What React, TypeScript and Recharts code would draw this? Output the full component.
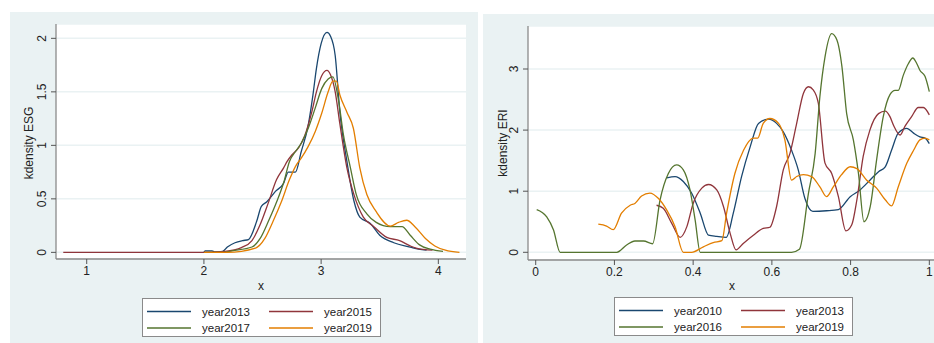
import React from "react"
import { LineChart, Line, XAxis, YAxis, CartesianGrid } from "recharts"

type Pair = [number, number]

// ESG kdensity curves (x, density)
const esg2013: Pair[] = [
  [2.0, 0], [2.01, 0.014], [2.07, 0.014], [2.09, 0.004], [2.16, 0.01], [2.2, 0.05], [2.265, 0.09],
  [2.33, 0.11], [2.38, 0.12], [2.45, 0.29], [2.49, 0.43], [2.535, 0.47], [2.61, 0.57], [2.68, 0.646],
  [2.72, 0.75], [2.78, 0.75], [2.83, 0.94], [2.89, 1.19], [2.93, 1.47], [2.96, 1.72], [3.0, 1.95],
  [3.05, 2.055], [3.08, 2.02], [3.12, 1.84], [3.16, 1.31], [3.22, 0.85], [3.28, 0.48], [3.33, 0.33],
  [3.42, 0.27], [3.5, 0.16], [3.62, 0.09], [3.76, 0.05], [3.83, 0.03], [3.9, 0.02],
]
const esg2015: Pair[] = [
  [0.8, 0], [2.0, 0], [2.18, 0.01], [2.32, 0.045], [2.41, 0.11], [2.48, 0.26], [2.55, 0.465],
  [2.62, 0.68], [2.68, 0.79], [2.71, 0.85], [2.75, 0.91], [2.81, 0.98], [2.86, 1.09], [2.92, 1.31],
  [2.96, 1.5], [3.005, 1.65], [3.05, 1.7], [3.08, 1.66], [3.12, 1.5], [3.16, 1.2], [3.22, 0.79],
  [3.28, 0.54], [3.36, 0.33], [3.45, 0.24], [3.56, 0.14], [3.67, 0.11], [3.76, 0.06], [3.81, 0.04],
  [3.95, 0.02],
]
const esg2017: Pair[] = [
  [2.0, 0], [2.18, 0], [2.22, 0.01], [2.41, 0.05], [2.48, 0.13], [2.55, 0.29], [2.62, 0.47],
  [2.68, 0.65], [2.73, 0.85], [2.78, 0.94], [2.83, 1.02], [2.89, 1.16], [2.95, 1.35], [3.005, 1.53],
  [3.06, 1.62], [3.1, 1.64], [3.15, 1.41], [3.19, 1.1], [3.25, 0.79], [3.3, 0.54], [3.39, 0.36],
  [3.47, 0.28], [3.59, 0.24], [3.69, 0.24], [3.76, 0.16], [3.84, 0.07], [3.93, 0.03], [4.04, 0.01],
]
const esg2019: Pair[] = [
  [2.0, 0], [2.2, 0], [2.44, 0.04], [2.52, 0.13], [2.59, 0.29], [2.66, 0.47], [2.73, 0.68],
  [2.79, 0.82], [2.83, 0.88], [2.89, 0.99], [2.95, 1.13], [3.005, 1.3], [3.06, 1.5], [3.1, 1.6],
  [3.13, 1.6], [3.16, 1.47], [3.22, 1.31], [3.275, 1.16], [3.33, 0.79], [3.39, 0.54], [3.47, 0.38],
  [3.59, 0.245], [3.66, 0.28], [3.73, 0.3], [3.8, 0.24], [3.89, 0.13], [3.97, 0.06], [4.06, 0.02],
  [4.18, 0],
]

// ERI kdensity curves
const eri2010: Pair[] = [
  [0.333, 1.22], [0.354, 1.24], [0.375, 1.16], [0.396, 0.97], [0.418, 0.64], [0.439, 0.28],
  [0.46, 0.26], [0.484, 0.245], [0.502, 0.64], [0.523, 1.24], [0.545, 1.73], [0.566, 2.11],
  [0.591, 2.18], [0.612, 2.11], [0.629, 1.97], [0.65, 1.67], [0.667, 1.35], [0.684, 0.88],
  [0.704, 0.67], [0.739, 0.68], [0.769, 0.7], [0.799, 0.91], [0.824, 1.02], [0.849, 1.18],
  [0.871, 1.32], [0.888, 1.4], [0.904, 1.67], [0.921, 1.95], [0.943, 2.03], [0.96, 1.95],
  [0.976, 1.89], [0.989, 1.87], [1.0, 1.78],
]
const eri2013: Pair[] = [
  [0.307, 0.77], [0.324, 0.72], [0.346, 0.47], [0.367, 0.245], [0.384, 0.42], [0.4, 0.8],
  [0.422, 1.05], [0.439, 1.11], [0.46, 1.02], [0.477, 0.75], [0.494, 0.31], [0.509, 0.04],
  [0.528, 0.15], [0.553, 0.28], [0.578, 0.39], [0.595, 0.41], [0.612, 0.75], [0.629, 1.35],
  [0.646, 1.62], [0.663, 2.11], [0.68, 2.6], [0.693, 2.71], [0.705, 2.66], [0.718, 2.44],
  [0.735, 1.46], [0.752, 1.29], [0.769, 0.91], [0.788, 0.35], [0.803, 0.45], [0.816, 0.86],
  [0.832, 1.57], [0.849, 2.0], [0.871, 2.27], [0.888, 2.31], [0.9, 2.22], [0.909, 2.08],
  [0.926, 1.92], [0.938, 2.06], [0.955, 2.22], [0.972, 2.37], [0.985, 2.37], [1.0, 2.25],
]
const eri2016: Pair[] = [
  [0.0025, 0.7], [0.028, 0.58], [0.045, 0.37], [0.062, 0], [0.206, 0], [0.231, 0.12],
  [0.252, 0.185], [0.274, 0.185], [0.297, 0.14], [0.316, 0.86], [0.337, 1.29], [0.358, 1.43],
  [0.375, 1.35], [0.392, 1.02], [0.405, 0.53], [0.418, 0], [0.65, 0], [0.67, 0.05], [0.693, 0.97],
  [0.71, 1.62], [0.722, 2.55], [0.735, 3.2], [0.752, 3.58], [0.765, 3.48], [0.778, 3.04],
  [0.79, 2.27], [0.807, 1.84], [0.82, 1.29], [0.834, 0.5], [0.85, 0.75], [0.866, 1.51],
  [0.883, 2.22], [0.9, 2.58], [0.913, 2.65], [0.921, 2.65], [0.934, 2.9], [0.947, 3.09],
  [0.958, 3.18], [0.968, 3.09], [0.976, 2.98], [0.989, 2.88], [1.0, 2.63],
]
const eri2019: Pair[] = [
  [0.159, 0.46], [0.18, 0.43], [0.197, 0.37], [0.218, 0.64], [0.24, 0.77], [0.252, 0.8],
  [0.269, 0.92], [0.29, 0.97], [0.312, 0.88], [0.333, 0.69], [0.354, 0.42], [0.375, 0], [0.396, 0],
  [0.426, 0.09], [0.451, 0.16], [0.473, 0.19], [0.485, 0.64], [0.506, 1.29], [0.528, 1.67],
  [0.553, 1.87], [0.564, 1.87], [0.578, 2.11], [0.595, 2.19], [0.617, 2.11], [0.633, 1.84],
  [0.65, 1.18], [0.663, 1.24], [0.68, 1.27], [0.701, 1.24], [0.722, 1.07], [0.739, 0.91],
  [0.756, 1.07], [0.777, 1.27], [0.799, 1.4], [0.816, 1.37], [0.841, 1.18], [0.866, 1.05],
  [0.888, 0.86], [0.904, 0.76], [0.921, 1.07], [0.943, 1.46], [0.96, 1.67], [0.976, 1.84],
  [0.989, 1.87], [1.0, 1.84],
]

const esgTicksX = [1, 2, 3, 4]
const esgTicksY = [0, 0.5, 1, 1.5, 2]
const eriTicksX = [0, 0.2, 0.4, 0.6, 0.8, 1]
const eriTicksY = [0, 1, 2, 3]

const COLORS = ["#1a476f", "#90353b", "#55752f", "#e37e00"]
const esgNames = ["year2013", "year2015", "year2017", "year2019"]
const eriNames = ["year2010", "year2013", "year2016", "year2019"]

const FONT = "'Liberation Sans', Arial, sans-serif"
const BG = "#eaf2f3"

const toPoints = (pairs: Pair[]) => pairs.map(([x, y]) => ({ x, y }))

function YTick(props: any) {
  const { x, y, payload } = props
  return (
    <text
      transform={`translate(${x},${y}) rotate(-90)`}
      textAnchor="middle"
      fontSize={12}
      fontFamily={FONT}
      fill="#222"
    >
      {payload.value}
    </text>
  )
}

// stata-style boxed legend, two columns
function KLegend({ names, left, top }: { names: string[]; left: number; top: number }) {
  const cols = [0, 122]
  const rows = [12.5, 29]
  return (
    <div
      style={{
        position: "absolute",
        left,
        top,
        width: 237,
        height: 37,
        background: "#fff",
        border: "1px solid #8a8a8a",
        fontFamily: FONT,
        fontSize: 11.5,
        color: "#222",
      }}
    >
      <svg width={237} height={37} style={{ position: "absolute", left: 0, top: 0 }}>
        {names.map((n, i) => {
          const cx = cols[i % 2]
          const cy = rows[Math.floor(i / 2)]
          return (
            <g key={"l" + i}>
              <line x1={cx + 4} x2={cx + 48} y1={cy} y2={cy} stroke={COLORS[i]} strokeWidth={1.3} />
              <text x={cx + 59} y={cy + 4} fontSize={11.5} fontFamily={FONT} fill="#222">
                {n}
              </text>
            </g>
          )
        })}
      </svg>
    </div>
  )
}

function AxisTitle({ text, left, top, rotate }: { text: string; left: number; top: number; rotate?: boolean }) {
  return (
    <div
      style={{
        position: "absolute",
        left,
        top,
        transform: `translate(-50%,-50%)${rotate ? " rotate(-90deg)" : ""}`,
        fontFamily: FONT,
        fontSize: 12,
        color: "#222",
        whiteSpace: "nowrap",
      }}
    >
      {text}
    </div>
  )
}

function Panel({
  left,
  top,
  width,
  height,
  yWidth,
  marginRight,
  marginBottom,
  xDomain,
  yDomain,
  xTicks,
  yTicks,
  series,
  names,
}: {
  left: number
  top: number
  width: number
  height: number
  yWidth: number
  marginRight: number
  marginBottom: number
  xDomain: [number, number]
  yDomain: [number, number]
  xTicks: number[]
  yTicks: number[]
  series: Pair[][]
  names: string[]
}) {
  return (
    <div style={{ position: "absolute", left, top, width, height }}>
      <LineChart width={width} height={height} margin={{ top: 12, right: marginRight, left: 0, bottom: marginBottom }}>
        <CartesianGrid vertical={false} fill="#fff" stroke={BG} strokeWidth={1.5} />
        <XAxis
          type="number"
          dataKey="x"
          domain={xDomain}
          ticks={xTicks}
          allowDataOverflow
          height={30}
          tickSize={5}
          tickMargin={2}
          axisLine={{ stroke: "#8a8a8a", strokeWidth: 1.3 }}
          tickLine={{ stroke: "#555" }}
          tick={{ fontSize: 12, fontFamily: FONT, fill: "#222" }}
        />
        <YAxis
          type="number"
          domain={yDomain}
          ticks={yTicks}
          allowDataOverflow
          width={yWidth}
          tickSize={5}
          tickMargin={5}
          axisLine={{ stroke: "#8a8a8a", strokeWidth: 1.3 }}
          tickLine={{ stroke: "#555" }}
          tick={<YTick />}
        />
        {series.map((s, i) => (
          <Line
            key={names[i]}
            data={toPoints(s)}
            dataKey="y"
            type="monotone"
            stroke={COLORS[i]}
            strokeWidth={1.3}
            dot={false}
            isAnimationActive={false}
          />
        ))}
      </LineChart>
    </div>
  )
}

export default function App() {
  return (
    <div style={{ position: "absolute", left: 0, top: 0, width: 934, height: 343, background: "#fff", overflow: "hidden" }}>
      <div style={{ position: "absolute", left: 10, top: 12, width: 468, height: 331, background: BG }} />
      <div style={{ position: "absolute", left: 483, top: 14, width: 451, height: 329, background: BG }} />

      <Panel
        left={10}
        top={12}
        width={468}
        height={331}
        yWidth={46}
        marginRight={12}
        marginBottom={54}
        xDomain={[0.738, 4.236]}
        yDomain={[-0.062, 2.134]}
        xTicks={esgTicksX}
        yTicks={esgTicksY}
        series={[esg2013, esg2015, esg2017, esg2019]}
        names={esgNames}
      />
      <Panel
        left={483}
        top={14}
        width={451}
        height={329}
        yWidth={45}
        marginRight={0}
        marginBottom={53}
        xDomain={[-0.0196, 1.0119]}
        yDomain={[-0.126, 3.704]}
        xTicks={eriTicksX}
        yTicks={eriTicksY}
        series={[eri2010, eri2013, eri2016, eri2019]}
        names={eriNames}
      />

      <AxisTitle text="kdensity ESG" left={29} top={143} rotate />
      <AxisTitle text="x" left={261} top={286} />
      <AxisTitle text="kdensity ERI" left={503} top={143} rotate />
      <AxisTitle text="x" left={732} top={286} />

      <KLegend names={esgNames} left={142} top={298} />
      <KLegend names={eriNames} left={614} top={297} />
    </div>
  )
}
